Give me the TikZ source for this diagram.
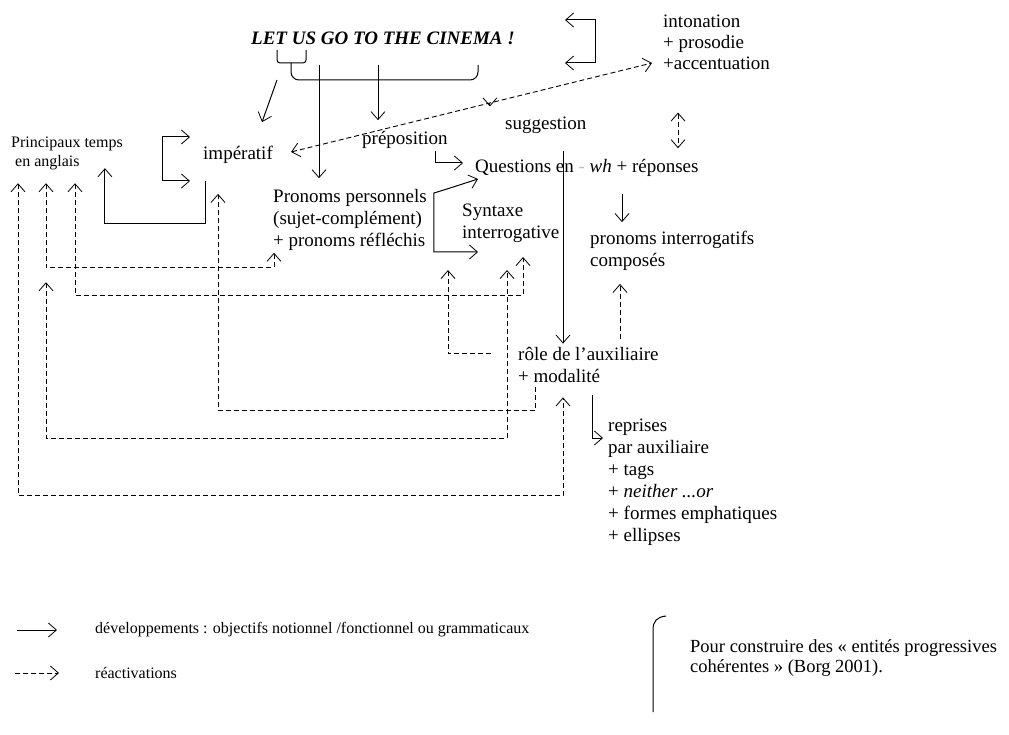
\documentclass[tikz,border=0pt]{standalone}
\usepackage{fontspec}
\setmainfont{Liberation Serif}
\usetikzlibrary{arrows.meta, positioning, calc}

\begin{document}
\begin{tikzpicture}[x=1pt, y=-1pt,
    >={Straight Barb[length=8pt, width=14pt, line width=0.8pt]},
    mot/.style={inner sep=0pt, anchor=west, align=left, font=\fontsize{19}{22}\selectfont},
    petit/.style={inner sep=0pt, anchor=west, align=left, font=\fontsize{16}{19}\selectfont},
    titre/.style={inner sep=0pt, font=\fontsize{19}{22}\selectfont\bfseries\itshape},
    trait/.style={line width=1pt},
    ar/.style={->, line width=1pt},
    dar/.style={->, line width=0.9pt, dash pattern=on 5pt off 3pt}]
  \useasboundingbox (0,0) rectangle (1009,735);
  \node[titre] (cine) at (383,38) {LET US GO TO THE CINEMA !};
  \node[mot, font=\fontsize{19}{21}\selectfont] (inton) at (663,42) {intonation\\+ prosodie\\+accentuation};
  \node[mot] (sugg) at (505,125) {suggestion};
  \node[mot] (prep) at (362,140) {préposition};
  \node[mot] (imper) at (203,155) {impératif};
  \node[petit] (princ) at (11,153.5) {Principaux temps\\\hspace*{4pt}en anglais};
  \node[mot] (quest) at (475,168) {Questions en {\color{black!25}-} \textit{wh} + réponses};
  \node[mot] (pron) at (273,220) {Pronoms personnels\\(sujet-complément)\\+ pronoms réfléchis};
  \node[mot] (synt) at (462,223.5) {Syntaxe\\interrogative};
  \node[mot] (pint) at (590,251) {pronoms interrogatifs\\composés};
  \node[mot] (role) at (518,364.5) {rôle de l’auxiliaire\\+ modalité};
  \node[mot] (repr) at (608,482) {reprises\\par auxiliaire\\+ tags\\+ \textit{neither ...or}\\+ formes emphatiques\\+ ellipses};
  \node[petit] (dev) at (95,630) {développements : objectifs notionnel /fonctionnel ou grammaticaux};
  \node[petit] (reac) at (95,673) {réactivations};
  \node[mot, font=\fontsize{18.5}{20}\selectfont] (borg) at (690,658) {Pour construire des « entités progressives\\cohérentes » (Borg 2001).};

  \coordinate (let) at (277,80);
  \coordinate (go) at (319,65);
  \coordinate (to) at (378,65);
  \coordinate (sg2) at ($(sugg.south west)+(58,17)$);
  \coordinate (rep) at ($(quest.south west)+(147,17)$);
  \coordinate (rx) at ($(role.north west)+(102,0)$);
  \coordinate (ix) at ($(inton.south west)+(15,0)$);

  \draw[trait, rounded corners=3pt] (277,50) -- (277,63) -- (306,63) -- (306,50);
  \draw[trait, rounded corners=8pt] (291,63) |- (478,80) -- (478,65);
  \draw[ar] (let) -- ($(imper.north)+(24,-24)$);
  \draw[ar, shorten >=11pt] (go) -- (go |- pron.north);
  \draw[ar, shorten >=11pt] (to) -- (to |- prep.north);
  \draw[ar, <->] ($(inton.west)+(-98,-22)$) -- ++(30,0) -- ++(0,43) -- ++(-30,0);
  \draw[ar, <->] ($(imper.west)+(-13,-18)$) -- ++(-28,0) -- ++(0,44) -- ++(28,0);
  \draw[ar] ($(imper.south west)+(2,17)$) -- ++(0,43) -| ($(princ.south east)+(-18,-2)$);
  \draw[ar] ($(prep.south east)+(-12,2)$) |- ($(quest.west)+(-12,-5)$);
  \draw[ar, <->] ($(quest.west)+(3,11)$) -- ($(pron.east)+(20,-31)$) -- ($(pron.east)+(7,-27)$) |- ($(synt.west)+(16,28.5)$);
  \draw[ar, shorten >=9pt] (rep) -- (rep |- pint.north);
  \draw[ar, shorten >=3pt] (sg2) -- (sg2 |- role.north);
  \draw[ar] ($(role.south west)+(74,13)$) |- ($(repr.west)+(-5,-44)$);

  \draw[dar, <->] ($(imper.east)+(18,-3)$) -- coordinate[pos=0.551] (sg) ($(inton.west)+(-11,21)$);
  \draw[dar, shorten >=10pt] (sg) -- (sg |- sugg.north);
  \draw[dar, <->, shorten <=43pt, shorten >=11pt] (ix) -- (ix |- quest.north);
  \draw[dar, shorten <=8pt, shorten >=13pt] (rx) -- (rx |- pint.south);
  \draw[dar, <->] ($(princ.south west)+(35,13)$) |- ($(pron.south west)+(1,17)$) -- ($(pron.south west)+(1,2)$);
  \draw[dar, <->] ($(princ.south west)+(64,13)$) |- ($(synt.south west)+(61,52)$) -- ($(synt.south west)+(61,14)$);
  \draw[dar, <->] ($(princ.south west)+(35,112)$) |- ($(synt.south west)+(45,195)$) -- ($(synt.south west)+(45,27)$);
  \draw[dar] ($(role.south west)+(17,5)$) |- ($(imper.south)+(-20,247)$) -- ($(imper.south)+(-20,30)$);
  \draw[dar, <->] ($(princ.south west)+(7,13)$) |- ($(role.south west)+(45,113)$) -- ($(role.south west)+(45,15)$);
  \draw[dar] ($(role.west)+(-27,-11)$) -| ($(synt.south west)+(-14,27)$);

  \draw[ar] ($(dev.west)+(-78,0)$) -- ($(dev.west)+(-38,0)$);
  \draw[dar] ($(reac.west)+(-80,0)$) -- ($(reac.west)+(-36,0)$);
  \draw[trait] (666,616) .. controls (657,617) and (653,621) .. (653,630) -- (653,712);
\end{tikzpicture}
\end{document}
